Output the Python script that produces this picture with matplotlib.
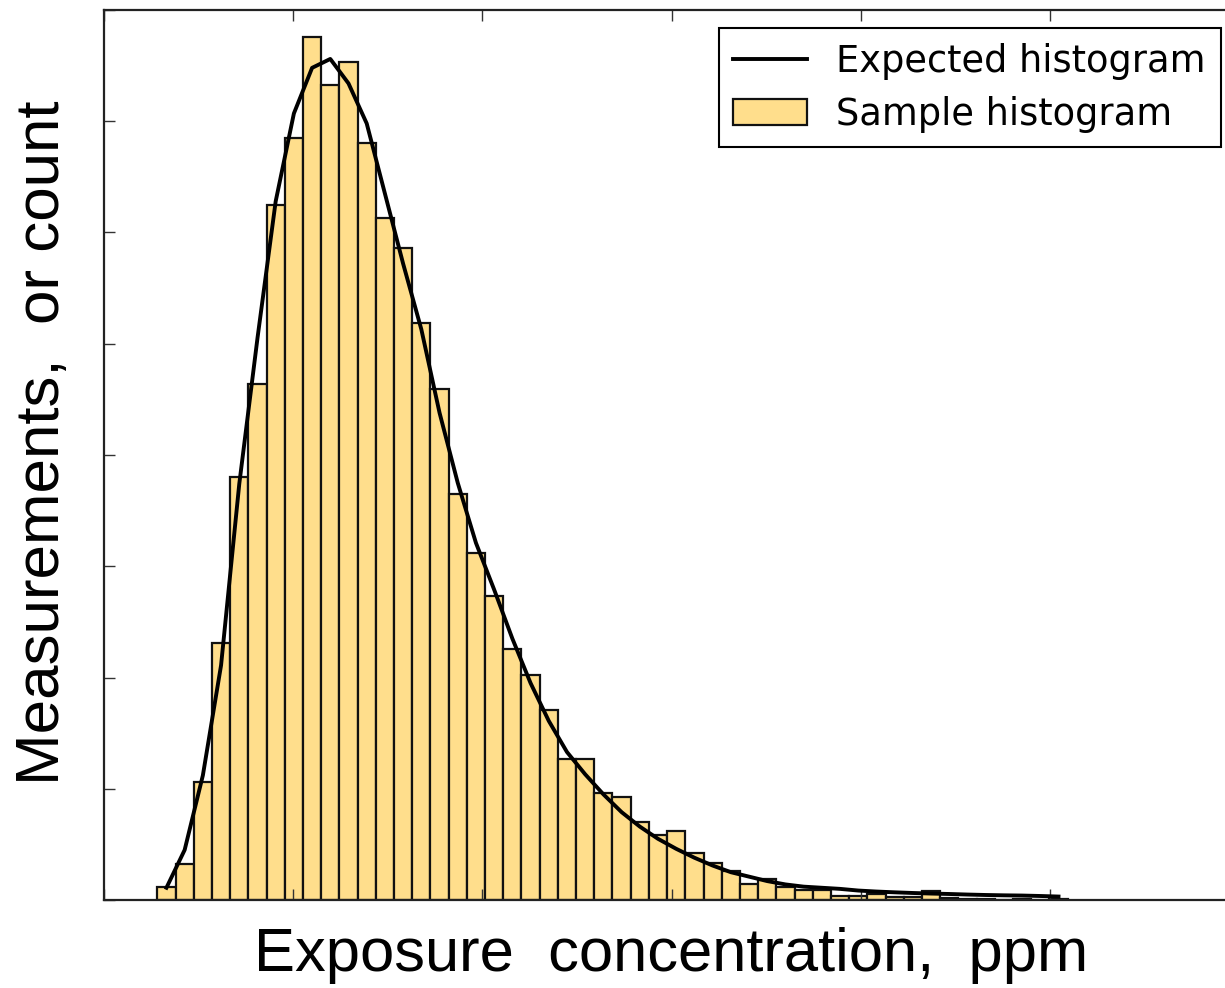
import numpy as np
import matplotlib.pyplot as plt

# sample histogram: counts per bin, and the expected (model) counts per bin
counts = [12, 32, 106, 231, 380, 464, 625, 685, 776, 733,
          753, 680, 613, 586, 519, 459, 365, 312, 273, 226,
          202, 171, 127, 127, 96, 93, 70, 58, 62, 42,
          33, 26, 14, 19, 12, 9, 9, 4, 4, 5,
          3, 3, 8, 2, 1, 1, 0, 1, 0, 1]
expected = [11, 45, 112, 211, 374, 505, 628, 707, 748, 756,
            734, 698, 635, 572, 513, 438, 375, 321, 279, 235,
            195, 161, 133, 113, 95, 79, 66, 55, 46, 38,
            31, 25, 21, 17, 14, 12, 11, 10, 8.5, 7.6,
            6.9, 6.3, 5.8, 5.4, 4.9, 4.5, 4.2, 4.0, 3.6, 3.1]
conc_min, conc_max = 1.41, 25.47   # ppm range covered by the bins

edges = np.linspace(conc_min, conc_max, len(counts) + 1)
centers = 0.5 * (edges[:-1] + edges[1:])

fig = plt.figure(figsize=(12.25, 9.88), dpi=100)
ax = fig.add_axes([104 / 1225, 88 / 988, 1135 / 1225, 890 / 988])

ax.plot(centers, expected, color='black', lw=2.8, label='Expected histogram',
        solid_joinstyle='round', zorder=3)
ax.bar(edges[:-1], counts, width=np.diff(edges), align='edge',
       color='#FFDE8C', edgecolor='#111111', lw=1.6, label='Sample histogram')

ax.set_xlim(0, 30)
ax.set_ylim(0, 800)
ax.set_xticks(np.arange(0, 31, 5))
ax.set_yticks(np.arange(0, 801, 100))
ax.tick_params(direction='in', length=8, width=1, color='#333333',
               top=True, right=True, labelbottom=False, labelleft=False)
for s in ax.spines.values():
    s.set_linewidth(1.6)
    s.set_color('#222222')

ax.set_xlabel('Exposure  concentration,  ppm', family='Liberation Sans', size=44.3)
ax.xaxis.set_label_coords(0.5, -0.03)
ax.set_ylabel('Measurements,  or count', family='Liberation Sans', size=44.6)
ax.yaxis.set_label_coords(-0.028, 0.514)

leg = ax.legend(loc='upper right', prop=dict(family='DejaVu Sans', size=26.5),
                fancybox=False, framealpha=1, edgecolor='black',
                borderpad=0.4, labelspacing=0.42, handlelength=2.0,
                handletextpad=0.8, borderaxespad=0.5)
leg.get_frame().set_linewidth(1.5)

fig.savefig('out.png', dpi=100)
